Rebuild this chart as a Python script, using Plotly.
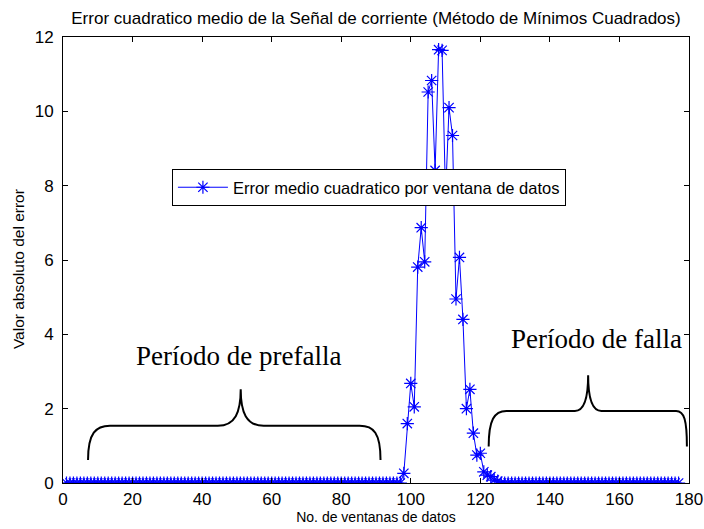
import plotly.graph_objects as go

# error por ventana (ventanas 1..177)
ventanas = list(range(1, 178))

error_prefalla = [
    0, 0, 0, 0, 0, 0, 0, 0, 0, 0, 0, 0, 0, 0, 0, 0, 0, 0, 0, 0,
    0, 0, 0, 0, 0, 0, 0, 0, 0, 0, 0, 0, 0, 0, 0, 0, 0, 0, 0, 0,
    0, 0, 0, 0, 0, 0, 0, 0, 0, 0, 0, 0, 0, 0, 0, 0, 0, 0, 0, 0,
    0, 0, 0, 0, 0, 0, 0, 0, 0, 0, 0, 0, 0, 0, 0, 0, 0, 0, 0, 0,
    0, 0, 0, 0, 0, 0, 0, 0, 0, 0, 0, 0, 0, 0, 0, 0, 0,
]
error_transitorio = [
    0.26, 1.6, 2.68, 2.05, 5.81, 6.87, 5.95, 10.52, 10.83, 8.41,
    11.66, 11.64, 7.7, 10.1, 9.35, 4.95, 6.07, 4.40, 2.0, 2.52,
    1.34, 0.75, 0.80, 0.30, 0.21, 0.17, 0.08, 0.05,
]
error_falla = [
    0, 0, 0, 0, 0, 0, 0, 0, 0, 0, 0, 0, 0, 0, 0, 0, 0, 0, 0, 0,
    0, 0, 0, 0, 0, 0, 0, 0, 0, 0, 0, 0, 0, 0, 0, 0, 0, 0, 0, 0,
    0, 0, 0, 0, 0, 0, 0, 0, 0, 0, 0, 0,
]
error = error_prefalla + error_transitorio + error_falla

xticks = [0, 20, 40, 60, 80, 100, 120, 140, 160, 180]
yticks = [0, 2, 4, 6, 8, 10, 12]

titulo = "Error cuadratico medio de la Señal de corriente (Método de Mínimos Cuadrados)"

fig = go.Figure()
fig.add_trace(go.Scatter(
    x=ventanas, y=error, mode="lines+markers",
    name="Error medio cuadratico por ventana de datos",
    line=dict(color="#0000ff", width=1),
    marker=dict(symbol="asterisk-open", size=11, color="#0000ff",
                line=dict(color="#0000ff", width=1.2)),
))

# llaves (en unidades de datos)
llave_pre = ("M 7.2,0.62 C 7.2,1.35 9.5,1.54 13.5,1.54 L 44.5,1.54 "
             "C 49.5,1.54 51.1,1.9 51.1,2.52 C 51.1,1.9 52.7,1.54 57.7,1.54 "
             "L 85.3,1.54 C 89.3,1.54 91.3,1.35 91.3,0.62")
llave_falla = ("M 122.4,0.98 C 122.4,1.7 124,1.94 127.5,1.94 L 147.2,1.94 "
               "C 150,1.94 151,2.3 151,2.9 C 151,2.3 152,1.94 154.8,1.94 "
               "L 176.3,1.94 C 178.6,1.94 179.4,1.7 179.4,0.98")
for p in [llave_pre, llave_falla]:
    fig.add_shape(type="path", path=p, xref="x", yref="y",
                  line=dict(color="black", width=2))

fig.add_annotation(x=50.6, y=3.42, xref="x", yref="y", text="Período de prefalla",
                   showarrow=False, font=dict(family="Liberation Serif", size=27, color="black"))
fig.add_annotation(x=153.3, y=3.88, xref="x", yref="y", text="Período de falla",
                   showarrow=False, font=dict(family="Liberation Serif", size=27, color="black"))
# titulo del eje y como anotacion para ubicarlo igual que el original
fig.add_annotation(x=-0.07, y=0.48, xref="paper", yref="paper", text="Valor absoluto del error",
                   textangle=-90, showarrow=False, xanchor="center", yanchor="middle",
                   font=dict(size=15.5, color="black"))

ejes = dict(showgrid=False, zeroline=False, showline=True, linecolor="black",
            linewidth=1, mirror="ticks", ticks="inside", ticklen=5,
            tickcolor="black", tickfont=dict(size=17, color="black"),
            automargin=False)

fig.update_layout(
    width=704, height=529,
    margin=dict(l=63, r=15, t=37, b=46),
    paper_bgcolor="white", plot_bgcolor="white",
    font=dict(family="Liberation Sans", color="black"),
    title=dict(text=titulo, x=0.5, xref="paper", y=0.966, yanchor="middle",
               font=dict(size=17, color="black")),
    xaxis=dict(range=[0, 180], tickvals=xticks, ticklabelstandoff=1,
               title=dict(text="No. de ventanas de datos", font=dict(size=14), standoff=3), **ejes),
    yaxis=dict(range=[0, 12], tickvals=yticks, ticklabelstandoff=5, **ejes),
    legend=dict(x=0.174, y=0.704, xanchor="left", yanchor="top",
                bgcolor="white", bordercolor="black", borderwidth=1,
                font=dict(size=16.5), itemwidth=50),
    showlegend=True,
)

# quitar el margen por defecto del body para que la figura llene la ventana
fig.write_html("out.html", config={"displayModeBar": False},
               post_script="document.body.style.margin='0px';document.body.style.overflow='hidden';")
